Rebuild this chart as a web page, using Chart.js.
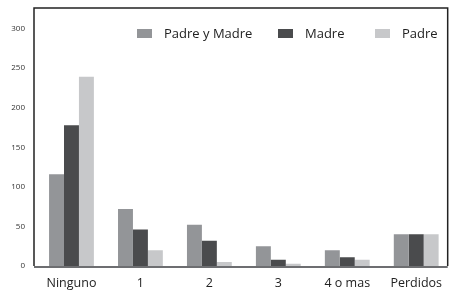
<!DOCTYPE html>
<html><head><meta charset="utf-8">
<script src="https://cdn.jsdelivr.net/npm/chart.js@4"></script>
<style>html,body{margin:0;padding:0;background:#fff}#wrap{width:452px;height:290px;position:relative}</style>
</head><body><div id="wrap"><canvas id="c"></canvas></div>
<script>
const categories = ["Ninguno","1","2","3","4 o mas","Perdidos"];
const seriesNames = ["Padre y Madre","Madre","Padre"];
const padreYMadre = [116,72,52,25,20,40];
const madre = [178,46,32,8,11,40];
const padre = [239,20,5,3,8,40];
const yTicks = [0,50,100,150,200,250,300];
const colors = ["#939598","#4a4b4d","#c7c8ca"];

const frame = {
  id:'frame',
  afterDraw(chart){
    const {ctx, chartArea:a} = chart;
    ctx.save();
    ctx.strokeStyle='#222'; ctx.lineWidth=1.5;
    ctx.beginPath();
    ctx.moveTo(a.left-3, a.bottom); ctx.lineTo(a.left-3, a.top); ctx.lineTo(a.right-3, a.top); ctx.lineTo(a.right-3, a.bottom);
    ctx.stroke();
    ctx.strokeStyle='#6d6e71'; ctx.lineWidth=2;
    ctx.beginPath(); ctx.moveTo(a.left-3, a.bottom+1); ctx.lineTo(a.right-3, a.bottom+1); ctx.stroke();
    const xs=[137,278,375];
    ctx.font='13px "Open Sans", sans-serif'; ctx.textBaseline='middle';
    chart.data.datasets.forEach((d,i)=>{
      ctx.fillStyle=d.backgroundColor; ctx.fillRect(xs[i],29,15,9);
      ctx.fillStyle='#222'; ctx.fillText(d.label, xs[i]+27, 34);
    });
    ctx.restore();
  }
};

new Chart(document.getElementById('c'),{
  type:'bar',
  data:{labels:categories,datasets:[
    {label:seriesNames[0],data:padreYMadre,backgroundColor:colors[0]},
    {label:seriesNames[1],data:madre,backgroundColor:colors[1]},
    {label:seriesNames[2],data:padre,backgroundColor:colors[2]}
  ]},
  options:{
    responsive:true, maintainAspectRatio:false, animation:false,
    categoryPercentage:0.65, barPercentage:1,
    layout:{padding:{top:8,right:0,left:0,bottom:-11}},
    plugins:{legend:{display:false},tooltip:{enabled:false}},
    scales:{
      x:{grid:{display:false,drawTicks:false},border:{display:false},
         ticks:{color:'#222',font:{family:'"Open Sans", sans-serif',size:12.5},padding:10}},
      y:{min:0,max:326,grid:{display:false,drawTicks:false},border:{display:false},
         afterBuildTicks(s){s.ticks=yTicks.map(v=>({value:v}));},
         afterFit(s){s.width=37;s.paddingTop=0;s.paddingBottom=0;},
         ticks:{color:'#333',font:{family:'"Open Sans", sans-serif',size:8},padding:12}}
    }
  },
  plugins:[frame]
});
</script></body></html>
